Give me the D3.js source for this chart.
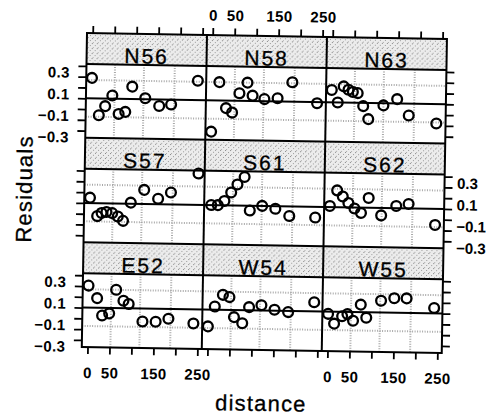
<!DOCTYPE html>
<html>
<head>
<meta charset="utf-8">
<script src="https://cdn.jsdelivr.net/npm/d3@7"></script>
<style>
  body { margin: 0; background: #fff; }
  text { font-family: "Liberation Sans", Arial, Helvetica, sans-serif; fill: #000; }
  .heavy { stroke: #000; stroke-width: 0.3px; }
</style>
</head>
<body>
<svg id="chart" width="486" height="416"></svg>
<script>
// panels in display order, top row first
const panelNames = ['N56', 'N58', 'N63', 'S57', 'S61', 'S62', 'E52', 'W54', 'W55'];

const distN56 = [0, 17, 31, 47, 62, 77, 92, 122, 154, 181, 241];
const resN56 = [0.19, -0.155, -0.07, 0.03, -0.14, -0.12, 0.115, 0.01, -0.06, -0.045, 0.18];
const distN58 = [0, 17, 33, 47, 63, 81, 93, 120, 150, 183, 240];
const resN58 = [-0.29, 0.17, -0.07, -0.11, 0.07, 0.17, 0.05, 0.02, 0.03, 0.18, -0.01];
const distN63 = [0, 14, 27, 38, 48, 59, 72, 84, 118, 149, 176, 239];
const resN63 = [0.115, 0.0, 0.15, 0.12, 0.10, 0.09, -0.03, -0.15, -0.02, 0.04, -0.11, -0.18];
const distS57 = [0, 17, 27, 38, 51, 64, 76, 93, 123, 155, 184, 246];
const resS57 = [0.05, -0.12, -0.09, -0.08, -0.09, -0.12, -0.16, 0.01, 0.13, 0.05, 0.11, 0.29];
const distS61 = [3, 18, 33, 48, 62, 78, 91, 119, 149, 181, 240];
const resS61 = [0.0, 0.0, 0.04, 0.12, 0.195, 0.265, -0.045, 0.0, -0.025, -0.09, -0.10];
const distS62 = [0, 16, 29, 42, 56, 71, 88, 117, 151, 179, 240];
const resS62 = [0.01, 0.155, 0.10, 0.04, -0.01, -0.05, 0.09, -0.07, 0.02, 0.04, -0.15];
const distE52 = [0, 20, 32, 48, 63, 80, 92, 124, 154, 183, 240];
const resE52 = [0.205, 0.09, -0.07, -0.05, 0.17, 0.07, 0.04, -0.12, -0.12, -0.09, -0.13];
const distW54 = [0, 15, 33, 48, 59, 78, 93, 121, 151, 182, 241];
const resW54 = [-0.155, 0.03, 0.14, 0.12, -0.065, -0.12, 0.03, 0.05, 0.01, -0.01, 0.085];
const distW55 = [0, 14, 32, 44, 57, 74, 87, 120, 150, 178, 241];
const resW55 = [-0.02, -0.11, -0.04, -0.02, -0.08, 0.07, -0.05, 0.11, 0.135, 0.135, 0.05];

const distArrays = [distN56, distN58, distN63, distS57, distS61, distS62, distE52, distW54, distW55];
const resArrays = [resN56, resN58, resN63, resS57, resS61, resS62, resE52, resW54, resW55];

const xTicks = [0, 50, 100, 150, 200, 250];
const xTickLabels = [0, 50, 150, 250];
const yTicks = [-0.3, -0.2, -0.1, 0, 0.1, 0.2, 0.3];
const yTickLabels = [0.3, 0.1, -0.1, -0.3];
const gridDist = [52, 118, 188];
const gridRes = [0.17, -0.17];

const colW = 120, stripH = 31, panelH = 73.67, rowH = stripH + panelH;
const gridW = colW * 3, gridH = rowH * 3;

const svg = d3.select('#chart');

const defs = svg.append('defs');
const pat = defs.append('pattern')
  .attr('id', 'stipple')
  .attr('width', 5).attr('height', 5)
  .attr('patternUnits', 'userSpaceOnUse');
pat.append('rect').attr('width', 5).attr('height', 5).attr('fill', '#ececec');
pat.append('rect').attr('x', 0).attr('y', 0).attr('width', 1).attr('height', 1).attr('fill', '#888');
pat.append('rect').attr('x', 3).attr('y', 2).attr('width', 1).attr('height', 1).attr('fill', '#999');
pat.append('rect').attr('x', 1).attr('y', 4).attr('width', 1).attr('height', 1).attr('fill', '#aaa');

// scanned page sits slightly tilted
const grid = svg.append('g')
  .attr('transform', 'translate(87,33) rotate(0.95)');

const xScale = d3.scaleLinear().domain([-13, 260]).range([0, colW]);
const yScale = d3.scaleLinear().domain([-0.365, 0.318]).range([panelH, 0]);

const panels = panelNames.map((name, i) => ({
  name: name,
  col: i % 3,
  row: Math.floor(i / 3),
  points: distArrays[i].map((d, j) => ({dist: d, res: resArrays[i][j]}))
}));

panels.forEach(p => {
  const g = grid.append('g')
    .attr('transform', `translate(${p.col * colW}, ${p.row * rowH})`);

  g.append('rect')
    .attr('width', colW).attr('height', stripH)
    .attr('fill', 'url(#stipple)');

  g.append('text')
    .attr('class', 'heavy')
    .attr('x', colW / 2)
    .attr('y', 29.5)
    .attr('text-anchor', 'middle')
    .style('font-size', '21px')
    .style('letter-spacing', '2px')
    .text(p.name);

  const body = g.append('g').attr('transform', `translate(0, ${stripH})`);

  body.selectAll('.vgrid')
    .data(gridDist)
    .enter()
    .append('line')
    .attr('x1', d => xScale(d)).attr('x2', d => xScale(d))
    .attr('y1', 0).attr('y2', panelH)
    .attr('stroke', '#a8a8a8')
    .attr('stroke-width', 2)
    .attr('stroke-dasharray', '1,1.5');

  body.selectAll('.hgrid')
    .data(gridRes)
    .enter()
    .append('line')
    .attr('x1', 0).attr('x2', colW)
    .attr('y1', d => yScale(d)).attr('y2', d => yScale(d))
    .attr('stroke', '#a8a8a8')
    .attr('stroke-width', 2)
    .attr('stroke-dasharray', '1,1.5');

  body.append('line')
    .attr('x1', 0).attr('x2', colW)
    .attr('y1', yScale(0)).attr('y2', yScale(0))
    .attr('stroke', '#000')
    .attr('stroke-width', 2);

  body.selectAll('circle')
    .data(p.points)
    .enter()
    .append('circle')
    .attr('cx', d => xScale(d.dist))
    .attr('cy', d => yScale(d.res))
    .attr('r', 4.9)
    .attr('fill', 'none')
    .attr('stroke', '#000')
    .attr('stroke-width', 2.3);

  // axes: ticks on every outer side, labels alternate like lattice
  if (p.row === 0) {
    const ax = g.append('g')
      .call(d3.axisTop(xScale).tickValues(xTicks).tickSize(7).tickPadding(7.5)
        .tickFormat(d => (p.col === 1 && xTickLabels.includes(d)) ? d : ''));
    styleAxis(ax);
  }
  if (p.row === 2) {
    const ax = body.append('g')
      .attr('transform', `translate(0, ${panelH})`)
      .call(d3.axisBottom(xScale).tickValues(xTicks).tickSize(7).tickPadding(13.3)
        .tickFormat(d => (p.col !== 1 && xTickLabels.includes(d)) ? d : ''));
    styleAxis(ax);
  }
  if (p.col === 0) {
    const ax = body.append('g')
      .call(d3.axisLeft(yScale).tickValues(yTicks).tickSize(8).tickPadding(8.5)
        .tickFormat(d => (p.row !== 1 && yTickLabels.includes(d)) ? d3.format('.1f')(d) : ''));
    styleAxis(ax);
    ax.selectAll('text').attr('dy', '0.77em');
  }
  if (p.col === 2) {
    const ax = body.append('g')
      .attr('transform', `translate(${colW}, 0)`)
      .call(d3.axisRight(yScale).tickValues(yTicks).tickSize(8).tickPadding(4.5)
        .tickFormat(d => (p.row === 1 && yTickLabels.includes(d)) ? d3.format('.1f')(d) : ''));
    styleAxis(ax);
    ax.selectAll('text').attr('dy', '0.77em').style('letter-spacing', '0px');
  }
});

function styleAxis(ax) {
  ax.select('.domain').remove();
  ax.selectAll('line').attr('stroke', '#000').attr('stroke-width', 1.8);
  ax.selectAll('text')
    .style('font-size', '15px')
    .style('font-weight', 'bold')
    .style('letter-spacing', '0.4px')
    .attr('fill', '#000');
}

// panel and strip borders
const borders = grid.append('g')
  .attr('fill', 'none')
  .attr('stroke', '#000')
  .attr('stroke-width', 2);

borders.append('rect')
  .attr('width', gridW).attr('height', gridH);

d3.range(1, 3).forEach(c => {
  borders.append('line')
    .attr('x1', c * colW).attr('x2', c * colW)
    .attr('y1', 0).attr('y2', gridH);
});
d3.range(3).forEach(r => {
  borders.append('line')
    .attr('x1', 0).attr('x2', gridW)
    .attr('y1', r * rowH + stripH).attr('y2', r * rowH + stripH);
  if (r > 0) {
    borders.append('line')
      .attr('x1', 0).attr('x2', gridW)
      .attr('y1', r * rowH).attr('y2', r * rowH);
  }
});

grid.append('text')
  .attr('class', 'heavy')
  .attr('transform', `translate(-52.5, ${gridH / 2}) rotate(-90)`)
  .attr('text-anchor', 'middle')
  .style('font-size', '22px')
  .style('letter-spacing', '1.2px')
  .text('Residuals');

grid.append('text')
  .attr('class', 'heavy')
  .attr('x', gridW / 2)
  .attr('y', 375)
  .attr('text-anchor', 'middle')
  .style('font-size', '22px')
  .style('letter-spacing', '1.2px')
  .text('distance');
</script>
</body>
</html>
